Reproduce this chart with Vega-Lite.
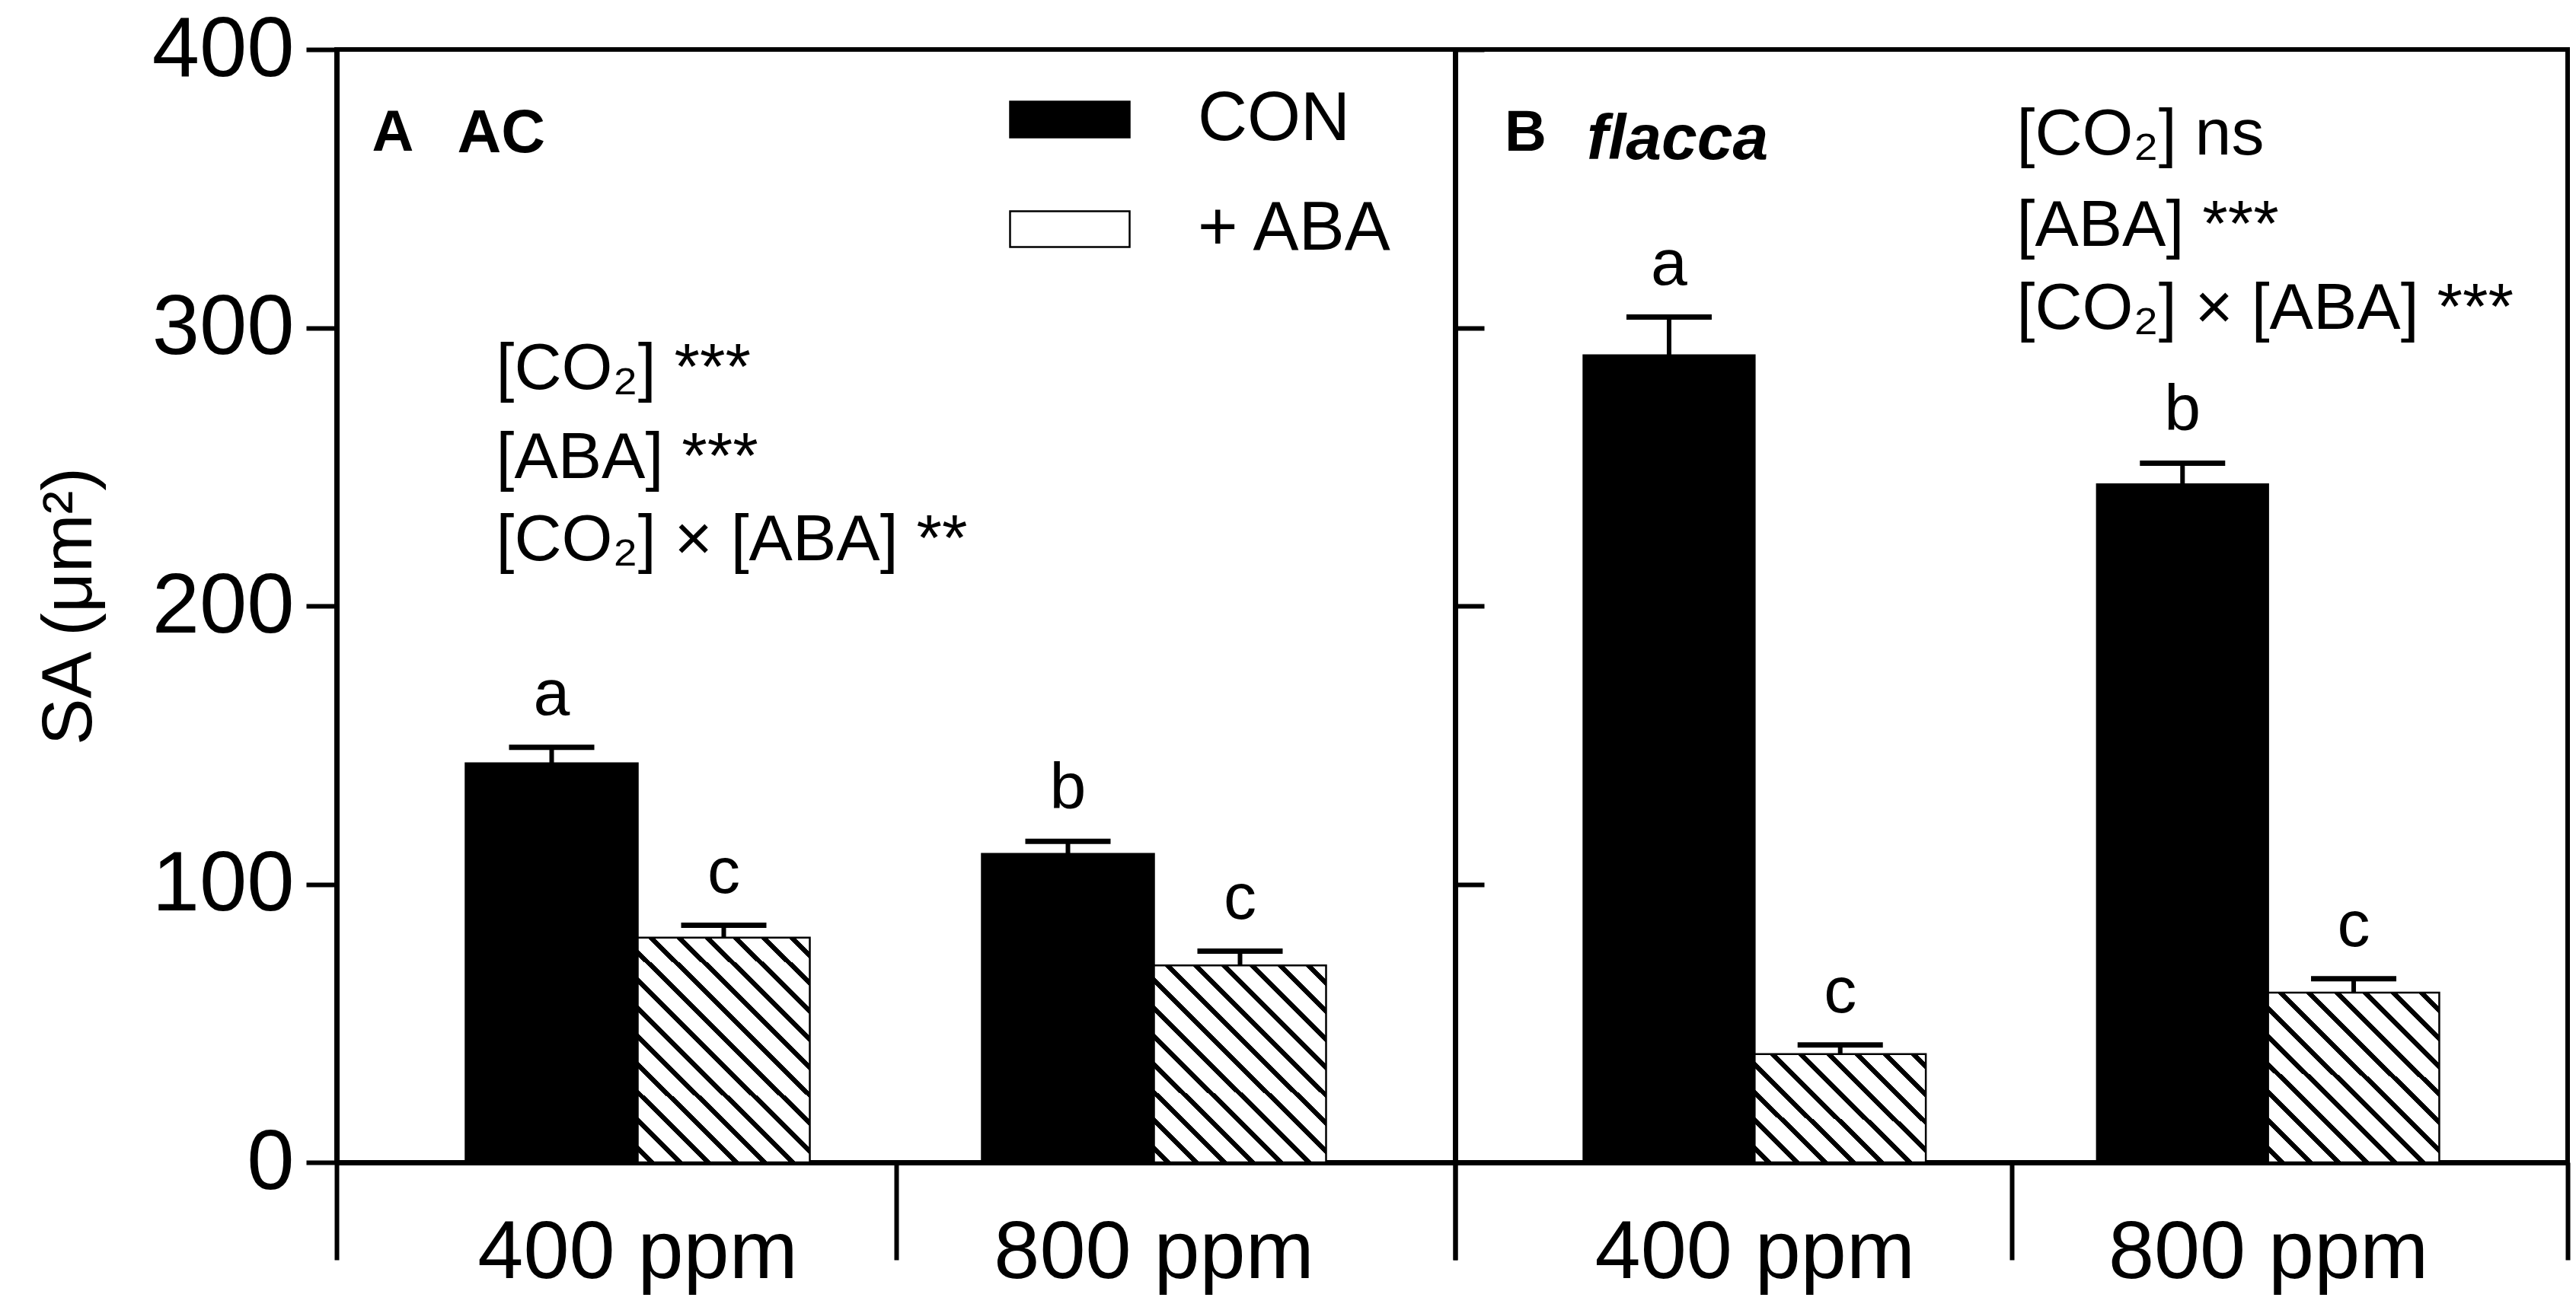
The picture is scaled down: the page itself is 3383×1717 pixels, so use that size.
{
  "$schema": "https://vega.github.io/schema/vega-lite/v6.json",
  "padding": {"left": 42, "top": 6, "right": 8, "bottom": 0},
  "background": "white",
  "spacing": 0,
  "bounds": "flush",
  "config": {
    "font": "Liberation Sans",
    "view": {"stroke": "black", "strokeWidth": 6},
    "axis": {"grid": false, "labelColor": "black", "tickColor": "black", "domainColor": "black", "titleColor": "black", "labelFont": "Liberation Sans", "titleFont": "Liberation Sans", "labelLimit": 0},
    "legend": {"labelLimit": 0},
    "text": {"font": "Liberation Sans", "color": "black"}
  },
  "datasets": {
    "bars": [
      {"panel": "A", "co2": "400 ppm", "trt": "CON", "slot": "400 ppm|CON", "mean": 143.4, "upper": 149.2, "letter": "a"},
      {"panel": "A", "co2": "400 ppm", "trt": "+ ABA", "slot": "400 ppm|+ ABA", "mean": 80.8, "upper": 85.2, "letter": "c"},
      {"panel": "A", "co2": "800 ppm", "trt": "CON", "slot": "800 ppm|CON", "mean": 110.9, "upper": 115.4, "letter": "b"},
      {"panel": "A", "co2": "800 ppm", "trt": "+ ABA", "slot": "800 ppm|+ ABA", "mean": 70.8, "upper": 75.9, "letter": "c"},
      {"panel": "B", "co2": "400 ppm", "trt": "CON", "slot": "400 ppm|CON", "mean": 290.1, "upper": 303.8, "letter": "a"},
      {"panel": "B", "co2": "400 ppm", "trt": "+ ABA", "slot": "400 ppm|+ ABA", "mean": 38.9, "upper": 42.2, "letter": "c"},
      {"panel": "B", "co2": "800 ppm", "trt": "CON", "slot": "800 ppm|CON", "mean": 243.7, "upper": 251.3, "letter": "b"},
      {"panel": "B", "co2": "800 ppm", "trt": "+ ABA", "slot": "800 ppm|+ ABA", "mean": 61.0, "upper": 66.0, "letter": "c"}
    ]
  },
  "hconcat": [
    {
      "width": 1469,
      "height": 1462,
      "data": {"name": "bars"},
      "transform": [{"filter": "datum.panel === 'A'"}],
      "layer": [
        {
          "encoding": {
            "x": {
              "field": "slot", "type": "nominal",
              "scale": {"domain": ["400 ppm|CON", "400 ppm|+ ABA", "gap", "800 ppm|CON", "800 ppm|+ ABA"], "paddingInner": 0, "paddingOuter": 0.75},
              "axis": {"orient": "bottom", "values": ["400 ppm|+ ABA", "800 ppm|+ ABA"], "labelOffset": -113, "labelExpr": "split(datum.value, '|')[0]", "ticks": false, "tickSize": 0, "domain": false, "title": null, "labelAngle": 0, "labelAlign": "center", "labelFontSize": 108, "labelBaseline": "alphabetic", "labelPadding": 151, "labelLimit": 0}
            }
          },
          "layer": [
            {
              "mark": {"type": "bar", "stroke": "black", "strokeWidth": 2.5},
              "encoding": {
                "y": {"field": "mean", "type": "quantitative", "scale": {"domain": [0, 400], "nice": false}, "axis": {"values": [0, 100, 200, 300, 400], "tickSize": 40, "tickWidth": 6, "domainWidth": 7, "labelFontSize": 112, "labelPadding": 16, "title": "SA (μm²)", "titleFontSize": 92, "titleFontWeight": "normal", "titlePadding": 104}},
                "fill": {
                  "field": "trt", "type": "nominal",
                  "scale": {"domain": ["CON", "+ ABA"], "range": ["black", "white"]},
                  "condition": [
                    {"test": "datum.slot === '400 ppm|+ ABA'", "value": {"gradient": "linear", "x1": 0, "y1": 1, "x2": 0.9735, "y2": -0.2794, "stops": [{"offset":0,"color":"#fff"},{"offset":0.02333,"color":"#fff"},{"offset":0.02333,"color":"#000"},{"offset":0.03833,"color":"#000"},{"offset":0.03833,"color":"#fff"},{"offset":0.085,"color":"#fff"},{"offset":0.085,"color":"#000"},{"offset":0.1,"color":"#000"},{"offset":0.1,"color":"#fff"},{"offset":0.14667,"color":"#fff"},{"offset":0.14667,"color":"#000"},{"offset":0.16167,"color":"#000"},{"offset":0.16167,"color":"#fff"},{"offset":0.20833,"color":"#fff"},{"offset":0.20833,"color":"#000"},{"offset":0.22333,"color":"#000"},{"offset":0.22333,"color":"#fff"},{"offset":0.27,"color":"#fff"},{"offset":0.27,"color":"#000"},{"offset":0.285,"color":"#000"},{"offset":0.285,"color":"#fff"},{"offset":0.33167,"color":"#fff"},{"offset":0.33167,"color":"#000"},{"offset":0.34667,"color":"#000"},{"offset":0.34667,"color":"#fff"},{"offset":0.39333,"color":"#fff"},{"offset":0.39333,"color":"#000"},{"offset":0.40833,"color":"#000"},{"offset":0.40833,"color":"#fff"},{"offset":0.455,"color":"#fff"},{"offset":0.455,"color":"#000"},{"offset":0.47,"color":"#000"},{"offset":0.47,"color":"#fff"},{"offset":0.51667,"color":"#fff"},{"offset":0.51667,"color":"#000"},{"offset":0.53167,"color":"#000"},{"offset":0.53167,"color":"#fff"},{"offset":0.57833,"color":"#fff"},{"offset":0.57833,"color":"#000"},{"offset":0.59333,"color":"#000"},{"offset":0.59333,"color":"#fff"},{"offset":0.64,"color":"#fff"},{"offset":0.64,"color":"#000"},{"offset":0.655,"color":"#000"},{"offset":0.655,"color":"#fff"},{"offset":0.70167,"color":"#fff"},{"offset":0.70167,"color":"#000"},{"offset":0.71667,"color":"#000"},{"offset":0.71667,"color":"#fff"},{"offset":0.76333,"color":"#fff"},{"offset":0.76333,"color":"#000"},{"offset":0.77833,"color":"#000"},{"offset":0.77833,"color":"#fff"},{"offset":0.825,"color":"#fff"},{"offset":0.825,"color":"#000"},{"offset":0.84,"color":"#000"},{"offset":0.84,"color":"#fff"},{"offset":0.88667,"color":"#fff"},{"offset":0.88667,"color":"#000"},{"offset":0.90167,"color":"#000"},{"offset":0.90167,"color":"#fff"},{"offset":0.94833,"color":"#fff"},{"offset":0.94833,"color":"#000"},{"offset":0.96333,"color":"#000"},{"offset":0.96333,"color":"#fff"},{"offset":1,"color":"#fff"}]}},
                    {"test": "datum.slot === '800 ppm|+ ABA'", "value": {"gradient": "linear", "x1": 0, "y1": 1, "x2": 1.1416, "y2": -0.3144, "stops": [{"offset":0,"color":"#fff"},{"offset":0.02333,"color":"#fff"},{"offset":0.02333,"color":"#000"},{"offset":0.03833,"color":"#000"},{"offset":0.03833,"color":"#fff"},{"offset":0.085,"color":"#fff"},{"offset":0.085,"color":"#000"},{"offset":0.1,"color":"#000"},{"offset":0.1,"color":"#fff"},{"offset":0.14667,"color":"#fff"},{"offset":0.14667,"color":"#000"},{"offset":0.16167,"color":"#000"},{"offset":0.16167,"color":"#fff"},{"offset":0.20833,"color":"#fff"},{"offset":0.20833,"color":"#000"},{"offset":0.22333,"color":"#000"},{"offset":0.22333,"color":"#fff"},{"offset":0.27,"color":"#fff"},{"offset":0.27,"color":"#000"},{"offset":0.285,"color":"#000"},{"offset":0.285,"color":"#fff"},{"offset":0.33167,"color":"#fff"},{"offset":0.33167,"color":"#000"},{"offset":0.34667,"color":"#000"},{"offset":0.34667,"color":"#fff"},{"offset":0.39333,"color":"#fff"},{"offset":0.39333,"color":"#000"},{"offset":0.40833,"color":"#000"},{"offset":0.40833,"color":"#fff"},{"offset":0.455,"color":"#fff"},{"offset":0.455,"color":"#000"},{"offset":0.47,"color":"#000"},{"offset":0.47,"color":"#fff"},{"offset":0.51667,"color":"#fff"},{"offset":0.51667,"color":"#000"},{"offset":0.53167,"color":"#000"},{"offset":0.53167,"color":"#fff"},{"offset":0.57833,"color":"#fff"},{"offset":0.57833,"color":"#000"},{"offset":0.59333,"color":"#000"},{"offset":0.59333,"color":"#fff"},{"offset":0.64,"color":"#fff"},{"offset":0.64,"color":"#000"},{"offset":0.655,"color":"#000"},{"offset":0.655,"color":"#fff"},{"offset":0.70167,"color":"#fff"},{"offset":0.70167,"color":"#000"},{"offset":0.71667,"color":"#000"},{"offset":0.71667,"color":"#fff"},{"offset":0.76333,"color":"#fff"},{"offset":0.76333,"color":"#000"},{"offset":0.77833,"color":"#000"},{"offset":0.77833,"color":"#fff"},{"offset":0.825,"color":"#fff"},{"offset":0.825,"color":"#000"},{"offset":0.84,"color":"#000"},{"offset":0.84,"color":"#fff"},{"offset":0.88667,"color":"#fff"},{"offset":0.88667,"color":"#000"},{"offset":0.90167,"color":"#000"},{"offset":0.90167,"color":"#fff"},{"offset":0.94833,"color":"#fff"},{"offset":0.94833,"color":"#000"},{"offset":0.96333,"color":"#000"},{"offset":0.96333,"color":"#fff"},{"offset":1,"color":"#fff"}]}}
                  ],
                  "legend": {
                    "orient": "none", "legendX": 883, "legendY": 12, "title": null, "padding": 0,
                    "symbolType": "M-1,-0.3H1V0.3H-1Z", "symbolSize": 24649, "symbolStrokeWidth": 2.5, "symbolStrokeColor": "black",
                    "labelFontSize": 90, "labelOffset": 88, "labelColor": "black", "labelLimit": 0, "rowPadding": 19,
                    "encode": {"symbols": {"update": {"fill": [{"test": "datum.value === '+ ABA'", "value": {"gradient": "linear", "x1": 0, "y1": 1, "x2": 3.5073, "y2": -0.05, "stops": [{"offset":0,"color":"#fff"},{"offset":0.06,"color":"#fff"},{"offset":0.06,"color":"#000"},{"offset":0.077,"color":"#000"},{"offset":0.077,"color":"#fff"},{"offset":0.122,"color":"#fff"},{"offset":0.122,"color":"#000"},{"offset":0.139,"color":"#000"},{"offset":0.139,"color":"#fff"},{"offset":0.184,"color":"#fff"},{"offset":0.184,"color":"#000"},{"offset":0.201,"color":"#000"},{"offset":0.201,"color":"#fff"},{"offset":0.246,"color":"#fff"},{"offset":0.246,"color":"#000"},{"offset":0.263,"color":"#000"},{"offset":0.263,"color":"#fff"},{"offset":0.308,"color":"#fff"},{"offset":0.308,"color":"#000"},{"offset":0.325,"color":"#000"},{"offset":0.325,"color":"#fff"},{"offset":1,"color":"#fff"}]}}, {"value": "black"}], "stroke": {"value": "black"}, "strokeWidth": {"value": 2.5}, "opacity": {"value": 1}}}}
                  }
                }
              }
            },
            {
              "mark": {"type": "rule", "strokeWidth": 6, "color": "black"},
              "encoding": {"y": {"field": "mean", "type": "quantitative"}, "y2": {"field": "upper"}}
            },
            {
              "mark": {"type": "tick", "size": 112, "thickness": 7, "color": "black", "opacity": 1},
              "encoding": {"y": {"field": "upper", "type": "quantitative"}}
            },
            {
              "mark": {"type": "text", "fontSize": 86, "baseline": "alphabetic", "dy": -43},
              "encoding": {"y": {"field": "upper", "type": "quantitative"}, "text": {"field": "letter"}}
            },
            {
              "data": {"values": [{"label": "A"}]},
              "mark": {"type": "text", "fontSize": 76, "fontWeight": "bold", "align": "left", "baseline": "alphabetic", "dx": -236},
              "encoding": {"x": {"datum": "400 ppm|CON"}, "y": {"datum": 363.5}, "text": {"field": "label"}}
            },
            {
              "data": {"values": [{"label": "AC"}]},
              "mark": {"type": "text", "fontSize": 80, "fontWeight": "bold", "align": "left", "baseline": "alphabetic", "dx": -124},
              "encoding": {"x": {"datum": "400 ppm|CON"}, "y": {"datum": 363}, "text": {"field": "label"}}
            },
            {
              "data": {"values": [{"label": "[CO₂] ***"}]},
              "mark": {"type": "text", "fontSize": 86, "align": "left", "baseline": "alphabetic", "dx": -73},
              "encoding": {"x": {"datum": "400 ppm|CON"}, "y": {"datum": 278.1}, "text": {"field": "label"}}
            },
            {
              "data": {"values": [{"label": "[ABA] ***"}]},
              "mark": {"type": "text", "fontSize": 86, "align": "left", "baseline": "alphabetic", "dx": -73},
              "encoding": {"x": {"datum": "400 ppm|CON"}, "y": {"datum": 246}, "text": {"field": "label"}}
            },
            {
              "data": {"values": [{"label": "[CO₂] × [ABA] **"}]},
              "mark": {"type": "text", "fontSize": 86, "align": "left", "baseline": "alphabetic", "dx": -73},
              "encoding": {"x": {"datum": "400 ppm|CON"}, "y": {"datum": 216.3}, "text": {"field": "label"}}
            }
          ]
        },
        {
          "mark": {"type": "rule", "opacity": 0},
          "encoding": {
            "x": {"field": "co2", "type": "nominal", "scale": {"domain": ["400 ppm", "800 ppm"], "paddingInner": 0, "paddingOuter": 0},
              "axis": {"orient": "bottom", "tickBand": "extent", "labels": false, "title": null, "tickSize": 128, "tickWidth": 6, "domainWidth": 7}}
          }
        }
      ],
      "resolve": {"scale": {"x": "independent"}}
    },
    {
      "width": 1461,
      "height": 1462,
      "data": {"name": "bars"},
      "transform": [{"filter": "datum.panel === 'B'"}],
      "layer": [
        {
          "encoding": {
            "x": {
              "field": "slot", "type": "nominal",
              "scale": {"domain": ["400 ppm|CON", "400 ppm|+ ABA", "gap", "800 ppm|CON", "800 ppm|+ ABA"], "paddingInner": 0, "paddingOuter": 0.75},
              "axis": {"orient": "bottom", "values": ["400 ppm|+ ABA", "800 ppm|+ ABA"], "labelOffset": -112, "labelExpr": "split(datum.value, '|')[0]", "ticks": false, "tickSize": 0, "domain": false, "title": null, "labelAngle": 0, "labelAlign": "center", "labelFontSize": 108, "labelBaseline": "alphabetic", "labelPadding": 151, "labelLimit": 0}
            }
          },
          "layer": [
            {
              "mark": {"type": "bar", "stroke": "black", "strokeWidth": 2.5},
              "encoding": {
                "y": {"field": "mean", "type": "quantitative", "scale": {"domain": [0, 400], "nice": false}, "axis": {"values": [0, 100, 200, 300, 400], "labels": false, "tickSize": -38, "tickWidth": 6, "domainWidth": 7, "title": null}},
                "fill": {
                  "condition": [
                    {"test": "datum.slot === '400 ppm|+ ABA'", "value": {"gradient": "linear", "x1": 0, "y1": 1, "x2": 1.9001, "y2": -0.2087, "stops": [{"offset":0,"color":"#fff"},{"offset":0.02333,"color":"#fff"},{"offset":0.02333,"color":"#000"},{"offset":0.03833,"color":"#000"},{"offset":0.03833,"color":"#fff"},{"offset":0.085,"color":"#fff"},{"offset":0.085,"color":"#000"},{"offset":0.1,"color":"#000"},{"offset":0.1,"color":"#fff"},{"offset":0.14667,"color":"#fff"},{"offset":0.14667,"color":"#000"},{"offset":0.16167,"color":"#000"},{"offset":0.16167,"color":"#fff"},{"offset":0.20833,"color":"#fff"},{"offset":0.20833,"color":"#000"},{"offset":0.22333,"color":"#000"},{"offset":0.22333,"color":"#fff"},{"offset":0.27,"color":"#fff"},{"offset":0.27,"color":"#000"},{"offset":0.285,"color":"#000"},{"offset":0.285,"color":"#fff"},{"offset":0.33167,"color":"#fff"},{"offset":0.33167,"color":"#000"},{"offset":0.34667,"color":"#000"},{"offset":0.34667,"color":"#fff"},{"offset":0.39333,"color":"#fff"},{"offset":0.39333,"color":"#000"},{"offset":0.40833,"color":"#000"},{"offset":0.40833,"color":"#fff"},{"offset":0.455,"color":"#fff"},{"offset":0.455,"color":"#000"},{"offset":0.47,"color":"#000"},{"offset":0.47,"color":"#fff"},{"offset":0.51667,"color":"#fff"},{"offset":0.51667,"color":"#000"},{"offset":0.53167,"color":"#000"},{"offset":0.53167,"color":"#fff"},{"offset":0.57833,"color":"#fff"},{"offset":0.57833,"color":"#000"},{"offset":0.59333,"color":"#000"},{"offset":0.59333,"color":"#fff"},{"offset":1,"color":"#fff"}]}},
                    {"test": "datum.slot === '800 ppm|+ ABA'", "value": {"gradient": "linear", "x1": 0, "y1": 1, "x2": 1.3381, "y2": -0.3345, "stops": [{"offset":0,"color":"#fff"},{"offset":0.02333,"color":"#fff"},{"offset":0.02333,"color":"#000"},{"offset":0.03833,"color":"#000"},{"offset":0.03833,"color":"#fff"},{"offset":0.085,"color":"#fff"},{"offset":0.085,"color":"#000"},{"offset":0.1,"color":"#000"},{"offset":0.1,"color":"#fff"},{"offset":0.14667,"color":"#fff"},{"offset":0.14667,"color":"#000"},{"offset":0.16167,"color":"#000"},{"offset":0.16167,"color":"#fff"},{"offset":0.20833,"color":"#fff"},{"offset":0.20833,"color":"#000"},{"offset":0.22333,"color":"#000"},{"offset":0.22333,"color":"#fff"},{"offset":0.27,"color":"#fff"},{"offset":0.27,"color":"#000"},{"offset":0.285,"color":"#000"},{"offset":0.285,"color":"#fff"},{"offset":0.33167,"color":"#fff"},{"offset":0.33167,"color":"#000"},{"offset":0.34667,"color":"#000"},{"offset":0.34667,"color":"#fff"},{"offset":0.39333,"color":"#fff"},{"offset":0.39333,"color":"#000"},{"offset":0.40833,"color":"#000"},{"offset":0.40833,"color":"#fff"},{"offset":0.455,"color":"#fff"},{"offset":0.455,"color":"#000"},{"offset":0.47,"color":"#000"},{"offset":0.47,"color":"#fff"},{"offset":0.51667,"color":"#fff"},{"offset":0.51667,"color":"#000"},{"offset":0.53167,"color":"#000"},{"offset":0.53167,"color":"#fff"},{"offset":0.57833,"color":"#fff"},{"offset":0.57833,"color":"#000"},{"offset":0.59333,"color":"#000"},{"offset":0.59333,"color":"#fff"},{"offset":0.64,"color":"#fff"},{"offset":0.64,"color":"#000"},{"offset":0.655,"color":"#000"},{"offset":0.655,"color":"#fff"},{"offset":0.70167,"color":"#fff"},{"offset":0.70167,"color":"#000"},{"offset":0.71667,"color":"#000"},{"offset":0.71667,"color":"#fff"},{"offset":0.76333,"color":"#fff"},{"offset":0.76333,"color":"#000"},{"offset":0.77833,"color":"#000"},{"offset":0.77833,"color":"#fff"},{"offset":1,"color":"#fff"}]}}
                  ],
                  "value": "black"
                }
              }
            },
            {
              "mark": {"type": "rule", "strokeWidth": 6, "color": "black"},
              "encoding": {"y": {"field": "mean", "type": "quantitative"}, "y2": {"field": "upper"}}
            },
            {
              "mark": {"type": "tick", "size": 112, "thickness": 7, "color": "black", "opacity": 1},
              "encoding": {"y": {"field": "upper", "type": "quantitative"}}
            },
            {
              "mark": {"type": "text", "fontSize": 86, "baseline": "alphabetic", "dy": -43},
              "encoding": {"y": {"field": "upper", "type": "quantitative"}, "text": {"field": "letter"}}
            },
            {
              "data": {"values": [{"label": "B"}]},
              "mark": {"type": "text", "fontSize": 76, "fontWeight": "bold", "align": "left", "baseline": "alphabetic", "dx": -216},
              "encoding": {"x": {"datum": "400 ppm|CON"}, "y": {"datum": 363.5}, "text": {"field": "label"}}
            },
            {
              "data": {"values": [{"label": "flacca"}]},
              "mark": {"type": "text", "fontSize": 84, "fontWeight": "bold", "fontStyle": "italic", "align": "left", "baseline": "alphabetic", "dx": -108},
              "encoding": {"x": {"datum": "400 ppm|CON"}, "y": {"datum": 360.5}, "text": {"field": "label"}}
            },
            {
              "data": {"values": [{"label": "[CO₂] ns"}]},
              "mark": {"type": "text", "fontSize": 86, "align": "left", "baseline": "alphabetic", "dx": 7},
              "encoding": {"x": {"datum": "gap"}, "y": {"datum": 362.3}, "text": {"field": "label"}}
            },
            {
              "data": {"values": [{"label": "[ABA] ***"}]},
              "mark": {"type": "text", "fontSize": 86, "align": "left", "baseline": "alphabetic", "dx": 7},
              "encoding": {"x": {"datum": "gap"}, "y": {"datum": 329.4}, "text": {"field": "label"}}
            },
            {
              "data": {"values": [{"label": "[CO₂] × [ABA] ***"}]},
              "mark": {"type": "text", "fontSize": 86, "align": "left", "baseline": "alphabetic", "dx": 7},
              "encoding": {"x": {"datum": "gap"}, "y": {"datum": 299.7}, "text": {"field": "label"}}
            }
          ]
        },
        {
          "mark": {"type": "rule", "opacity": 0},
          "encoding": {
            "x": {"field": "co2", "type": "nominal", "scale": {"domain": ["400 ppm", "800 ppm"], "paddingInner": 0, "paddingOuter": 0},
              "axis": {"orient": "bottom", "tickBand": "extent", "labels": false, "title": null, "tickSize": 128, "tickWidth": 6, "domainWidth": 7}}
          }
        }
      ],
      "resolve": {"scale": {"x": "independent"}}
    }
  ]
}
